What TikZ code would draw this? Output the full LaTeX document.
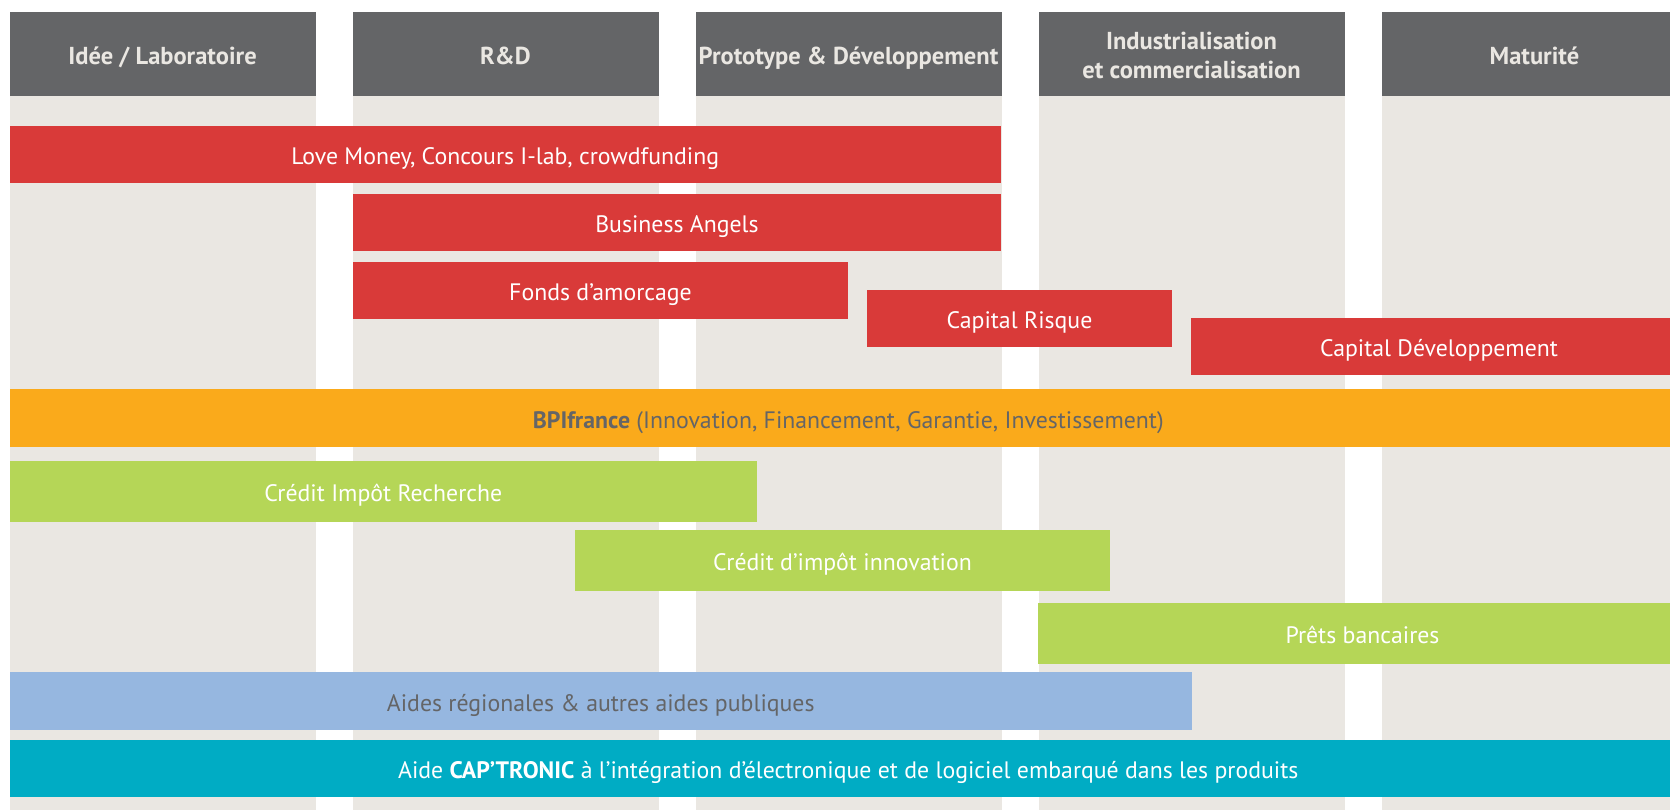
\documentclass[tikz,border=0pt]{standalone}
\usepackage{fontspec}
\setmainfont{PT Sans}
\definecolor{hdr}{HTML}{646567}
\definecolor{colbg}{HTML}{EAE7E2}
\definecolor{hdrtxt}{HTML}{EAE7E2}
\definecolor{redb}{HTML}{D93A39}
\definecolor{orangeb}{HTML}{FAAA1B}
\definecolor{greenb}{HTML}{B5D657}
\definecolor{blueb}{HTML}{96B7E0}
\definecolor{tealb}{HTML}{00ACC4}
\definecolor{txtgray}{HTML}{646567}
\begin{document}
\begin{tikzpicture}[x=1pt,y=-1pt,
  colbox/.style={fill=colbg,draw=none},
  hdrbox/.style={fill=hdr,draw=none,inner sep=0pt,minimum width=306pt,minimum height=84.5pt},
  hdrtext/.style={inner sep=0pt,text=hdrtxt,font=\fontsize{24.5}{28.5}\selectfont\bfseries,align=center,text height=17pt,text depth=0pt},
  barbox/.style={draw=none,inner sep=0pt},
  bartext/.style={inner sep=0pt,font=\fontsize{23.8}{26}\selectfont,text=white,text height=17pt,text depth=0pt},
  redbar/.style={barbox,fill=redb,minimum height=57pt},
  orangebar/.style={barbox,fill=orangeb,minimum height=58pt},
  greenbar/.style={barbox,fill=greenb,minimum height=61pt},
  bluebar/.style={barbox,fill=blueb,minimum height=58pt},
  tealbar/.style={barbox,fill=tealb,minimum height=57pt}]
\useasboundingbox (0,0) rectangle (1670,810);
\clip (0,0) rectangle (1670,810);
\fill[white] (0,0) rectangle (1670,810);
% columns
\foreach \cx in {162.5,505.5,848.5,1191.5,1534.5}{
  \fill[colbg] (\cx-153,96) rectangle (\cx+153,810);
}
\node[hdrbox] (h1) at (162.5,54) {};
\node[hdrbox] (h2) at (505.5,54) {};
\node[hdrbox] (h3) at (848.5,54) {};
\node[hdrbox] (h4) at (1191.5,54) {};
\node[hdrbox] (h5) at (1534.5,54) {};
\node[hdrtext] at ([yshift=-2pt]h1.center) {Idée / Laboratoire};
\node[hdrtext] at ([yshift=-2pt]h2.center) {R\&D};
\node[hdrtext] at ([yshift=-2pt]h3.center) {Prototype \& Développement};
\node[hdrtext] at ([yshift=12.5pt]h4.center) {Industrialisation};
\node[hdrtext] at ([yshift=-16pt]h4.center) {et commercialisation};
\node[hdrtext] at ([yshift=-2pt]h5.center) {Maturité};
% red bars
\node[redbar,minimum width=991.5pt] (lm) at (505.25,154.5) {};
\node[redbar,minimum width=648pt] (ba) at (677,222.5) {};
\node[redbar,minimum width=495pt] (fa) at (600.5,290.5) {};
\node[redbar,minimum width=305pt] (cr) at (1019.5,318.5) {};
\node[redbar,minimum width=496pt] (cd) at (1439,346.5) {};
\node[bartext] at ([yshift=-1.5pt]lm.center) {Love Money, Concours I-lab, crowdfunding};
\node[bartext] at ([yshift=-1.5pt]ba.center) {Business Angels};
\node[bartext] at ([yshift=-1.5pt]fa.center) {Fonds d’amorcage};
\node[bartext] at ([yshift=-1.5pt]cr.center) {Capital Risque};
\node[bartext] at ([yshift=-1.5pt]cd.center) {Capital Développement};
% BPI
\node[orangebar,minimum width=1677.5pt] (bpi) at (848.25,418) {};
\node[bartext,text=txtgray] at ([yshift=-1.5pt]bpi.center) {\textbf{BPIfrance} (Innovation, Financement, Garantie, Investissement)};
% green
\node[greenbar,minimum width=747.5pt] (cir) at (383.25,491.5) {};
\node[greenbar,minimum width=535pt] (cii) at (842.5,560.5) {};
\node[greenbar,minimum width=649pt] (pb) at (1362.5,633.5) {};
\node[bartext] at ([yshift=-1.5pt]cir.center) {Crédit Impôt Recherche};
\node[bartext] at ([yshift=-1.5pt]cii.center) {Crédit d’impôt innovation};
\node[bartext] at ([yshift=-1.5pt]pb.center) {Prêts bancaires};
% blue
\node[bluebar,minimum width=1182.5pt] (ar) at (600.75,701) {};
\node[bartext,text=txtgray] at ([yshift=-1.5pt]ar.center) {Aides régionales \& autres aides publiques};
% teal
\node[tealbar,minimum width=1677.5pt] (cap) at (848.25,768.5) {};
\node[bartext] at ([yshift=-1.5pt]cap.center) {Aide \textbf{CAP’TRONIC} à l’intégration d’électronique et de logiciel embarqué dans les produits};
\end{tikzpicture}
\end{document}
